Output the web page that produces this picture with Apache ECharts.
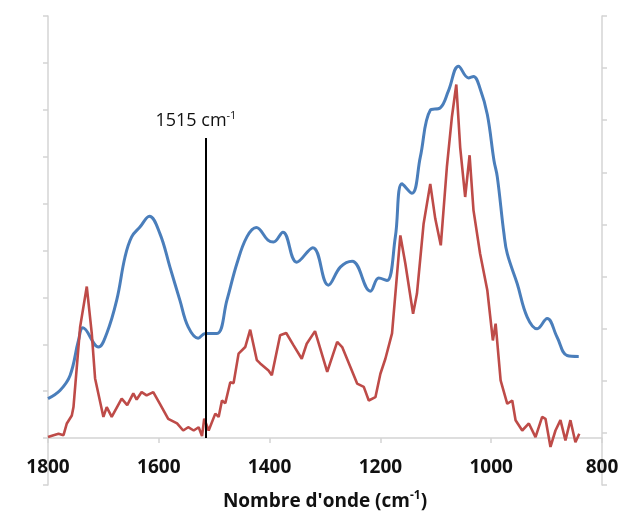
<!DOCTYPE html>
<html>
<head>
<meta charset="utf-8">
<script src="https://cdn.jsdelivr.net/npm/echarts@6/dist/echarts.min.js"></script>
<style>
  html, body { margin: 0; padding: 0; background: #fff; }
  #chart { width: 630px; height: 517px; }
</style>
</head>
<body>
<div id="chart"></div>
<script>
// spectre bleu (lissé)
var blueWn = [1800, 1778, 1760, 1745, 1737, 1709, 1694, 1676, 1661, 1649, 1634, 1617, 1598, 1580, 1562, 1547, 1529, 1516, 1495, 1477, 1459, 1441, 1424, 1403, 1393, 1376, 1351, 1322, 1294, 1272, 1251, 1218, 1203, 1188, 1173, 1161, 1143, 1128, 1110, 1092, 1077, 1059, 1041, 1032, 1020, 1007, 995, 989, 977, 971, 953, 935, 917, 899, 881, 863, 842];
var blueAbs = [0.84, 1.02, 1.34, 2.08, 2.35, 1.94, 2.23, 2.94, 3.86, 4.29, 4.50, 4.73, 4.36, 3.65, 2.94, 2.37, 2.13, 2.23, 2.23, 2.94, 3.72, 4.29, 4.49, 4.22, 4.18, 4.39, 3.75, 4.06, 3.26, 3.65, 3.77, 3.13, 3.41, 3.36, 4.29, 5.42, 5.22, 5.99, 6.99, 7.04, 7.41, 7.93, 7.68, 7.71, 7.45, 6.90, 5.92, 5.57, 4.36, 3.93, 3.29, 2.58, 2.33, 2.55, 2.15, 1.76, 1.74];

// spectre rouge (bruité)
var redWn = [1800, 1790, 1781, 1772, 1766, 1757, 1754, 1742, 1730, 1721, 1715, 1700, 1694, 1685, 1667, 1657, 1646, 1640, 1631, 1622, 1610, 1598, 1583, 1567, 1556, 1547, 1537, 1528, 1522, 1518, 1510, 1498, 1492, 1486, 1480, 1471, 1465, 1456, 1444, 1435, 1423, 1417, 1402, 1396, 1381, 1370, 1357, 1342, 1333, 1318, 1296, 1278, 1269, 1254, 1242, 1230, 1221, 1209, 1200, 1191, 1179, 1164, 1155, 1141, 1134, 1122, 1110, 1101, 1091, 1080, 1071, 1063, 1056, 1047, 1039, 1032, 1020, 1007, 997, 992, 983, 971, 962, 956, 944, 932, 920, 908, 902, 893, 884, 875, 866, 857, 848, 841];
var redAbs = [0.02, 0.06, 0.09, 0.06, 0.31, 0.48, 0.66, 2.37, 3.23, 2.23, 1.27, 0.45, 0.66, 0.45, 0.84, 0.70, 0.95, 0.82, 0.98, 0.91, 0.98, 0.73, 0.41, 0.31, 0.16, 0.23, 0.16, 0.23, 0.04, 0.41, 0.16, 0.52, 0.45, 0.80, 0.74, 1.19, 1.17, 1.80, 1.94, 2.31, 1.66, 1.59, 1.44, 1.34, 2.19, 2.24, 1.98, 1.69, 2.01, 2.28, 1.41, 2.05, 1.94, 1.51, 1.16, 1.09, 0.80, 0.87, 1.37, 1.69, 2.23, 4.32, 3.72, 2.65, 3.08, 4.57, 5.42, 4.68, 4.11, 5.78, 6.84, 7.54, 6.20, 5.14, 6.03, 4.86, 3.93, 3.15, 2.08, 2.44, 1.23, 0.73, 0.80, 0.38, 0.16, 0.31, 0.02, 0.45, 0.41, -0.19, 0.16, 0.38, -0.05, 0.38, -0.09, 0.09];

var xTicks = [1800, 1600, 1400, 1200, 1000, 800];
var markWn = 1515;
var markRange = [0, 6.4];

function zip(xs, ys) {
    var out = [];
    for (var i = 0; i < xs.length; i++) out.push([xs[i], ys[i]]);
    return out;
}

var FONT = '"Open Sans", "DejaVu Sans", sans-serif';
var AXIS_GREY = '#d4d4d4';
var greyLine = { color: AXIS_GREY, width: 1.5 };

var chart = echarts.init(document.getElementById('chart'), null, { renderer: 'canvas' });

chart.setOption({
    animation: false,
    backgroundColor: '#fff',
    // grid 0 : tracé + axe des x ; grid 1 : axes verticaux qui descendent sous l'axe x
    grid: [
        { left: 48, right: 28, top: 16, bottom: 79, outerBoundsMode: 'none', containLabel: false },
        { left: 48, right: 28, top: 16, bottom: 32, outerBoundsMode: 'none', containLabel: false }
    ],
    xAxis: [
        {
            gridIndex: 0,
            type: 'value',
            inverse: true,
            min: 800,
            max: 1800,
            interval: 200,
            axisLine: { onZero: false, lineStyle: greyLine },
            axisTick: { show: true, inside: false, length: 5, lineStyle: greyLine },
            axisLabel: {
                margin: 20,
                color: '#111',
                fontFamily: FONT,
                fontWeight: 'bold',
                fontSize: 19,
                formatter: function (v) { return xTicks.indexOf(v) >= 0 ? String(v) : ''; }
            },
            splitLine: { show: false },
            name: "{b|Nombre d'onde (cm}{s|-1}{b|)}",
            nameLocation: 'middle',
            nameGap: 52,
            nameTextStyle: {
                rich: {
                    b: { fontFamily: FONT, fontWeight: 'bold', fontSize: 19, color: '#111', lineHeight: 24 },
                    s: { fontFamily: FONT, fontWeight: 'bold', fontSize: 12, color: '#111', verticalAlign: 'top', lineHeight: 24 }
                }
            }
        },
        { gridIndex: 1, type: 'value', inverse: true, min: 800, max: 1800, show: false }
    ],
    yAxis: [
        { gridIndex: 0, type: 'value', min: 0, max: 9, show: false },
        {
            gridIndex: 1,
            type: 'value',
            position: 'left',
            min: -1,
            max: 9,
            interval: 1,
            axisLine: { show: true, onZero: false, lineStyle: greyLine },
            axisTick: { show: true, length: 5, lineStyle: greyLine },
            axisLabel: { show: false },
            splitLine: { show: false }
        },
        {
            gridIndex: 1,
            type: 'value',
            position: 'right',
            min: 0,
            max: 9,
            interval: 1,
            axisLine: { show: true, onZero: false, lineStyle: greyLine },
            axisTick: { show: true, length: 5, lineStyle: greyLine },
            axisLabel: { show: false },
            splitLine: { show: false }
        }
    ],
    series: [
        {
            type: 'line',
            xAxisIndex: 0,
            yAxisIndex: 0,
            data: zip(blueWn, blueAbs),
            showSymbol: false,
            smooth: 0.4,
            clip: false,
            lineStyle: { color: '#4a7ebb', width: 3 },
            z: 2
        },
        {
            type: 'line',
            xAxisIndex: 0,
            yAxisIndex: 0,
            data: zip(redWn, redAbs),
            showSymbol: false,
            smooth: false,
            clip: false,
            lineStyle: { color: '#be4b48', width: 2.6 },
            z: 3,
            markLine: {
                silent: true,
                symbol: 'none',
                lineStyle: { color: '#000', width: 2, type: 'solid' },
                label: {
                    show: true,
                    position: 'end',
                    distance: 6,
                    offset: [-10, 0],
                    formatter: '{a|1515 cm}{s|-1}',
                    rich: {
                        a: { fontFamily: FONT, fontSize: 18, color: '#111', lineHeight: 22 },
                        s: { fontFamily: FONT, fontSize: 11, color: '#111', verticalAlign: 'top', lineHeight: 22 }
                    }
                },
                data: [[{ coord: [markWn, markRange[0]] }, { coord: [markWn, markRange[1]] }]]
            }
        }
    ]
});
</script>
</body>
</html>
